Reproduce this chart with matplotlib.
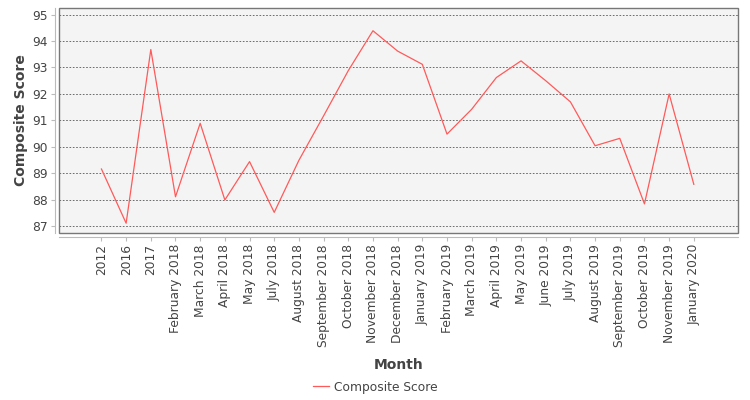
import numpy as np
import matplotlib
matplotlib.use("Agg")
import matplotlib.pyplot as plt
from matplotlib.patches import Rectangle

plt.rcParams["font.family"] = ["DejaVu Sans"]

months = ["2012", "2016", "2017", "February 2018", "March 2018", "April 2018",
          "May 2018", "July 2018", "August 2018", "September 2018", "October 2018",
          "November 2018", "December 2018", "January 2019", "February 2019",
          "March 2019", "April 2019", "May 2019", "June 2019", "July 2019",
          "August 2019", "September 2019", "October 2019", "November 2019",
          "January 2020"]
scores = [89.16, 87.11, 93.68, 88.11, 90.89, 87.99, 89.44, 87.52, 89.49, 91.17,
          92.88, 94.39, 93.62, 93.12, 90.48, 91.42, 92.62, 93.25, 92.50, 91.70,
          90.04, 90.32, 87.84, 92.00, 88.58]

txt = "#444444"

fig = plt.figure(figsize=(7.5, 4), dpi=100)
ax = fig.add_axes([59 / 750, 1 - 233 / 400, 679 / 750, 225 / 400])
ax.set_facecolor("#f4f4f4")

x = np.arange(len(months))
ax.plot(x, scores, color="#ff5a5a", lw=0.9, label="Composite Score")

ax.set_xlim(-1.72, len(months) - 1 + 1.79)
ax.set_ylim(86.74, 95.25)
ax.set_yticks(range(87, 96))
ax.set_xticks(x)
ax.set_xticklabels(months)

ax.grid(axis="y", color="#555555", ls=(0, (2, 2)), lw=0.6)
ax.set_axisbelow(True)

for s in ["top", "right"]:
    ax.spines[s].set_visible(False)
for s in ["left", "bottom"]:
    ax.spines[s].set_position(("outward", 3))
    ax.spines[s].set_color("#bbbbbb")
    ax.spines[s].set_linewidth(0.8)
ax.add_patch(Rectangle((0, 0), 1, 1, transform=ax.transAxes, fill=False,
                       edgecolor="#777777", lw=1.0, clip_on=False, zorder=5))

ax.tick_params(axis="both", colors="#bbbbbb", labelcolor=txt, labelsize=8.8,
               length=3, width=0.8)
ax.tick_params(axis="x", pad=2, labelrotation=90)
ax.tick_params(axis="y", pad=2)

ax.set_ylabel("Composite Score", fontsize=10, fontweight="bold", color=txt, labelpad=3)
ax.set_xlabel("Month", fontsize=10, fontweight="bold", color=txt, labelpad=8)

fig.legend(loc="center", bbox_to_anchor=(0.5, 1 - 387 / 400), frameon=False,
           fontsize=8.8, handlelength=1.3, handletextpad=0.4, labelcolor=txt)

fig.savefig("out.png", dpi=100)
